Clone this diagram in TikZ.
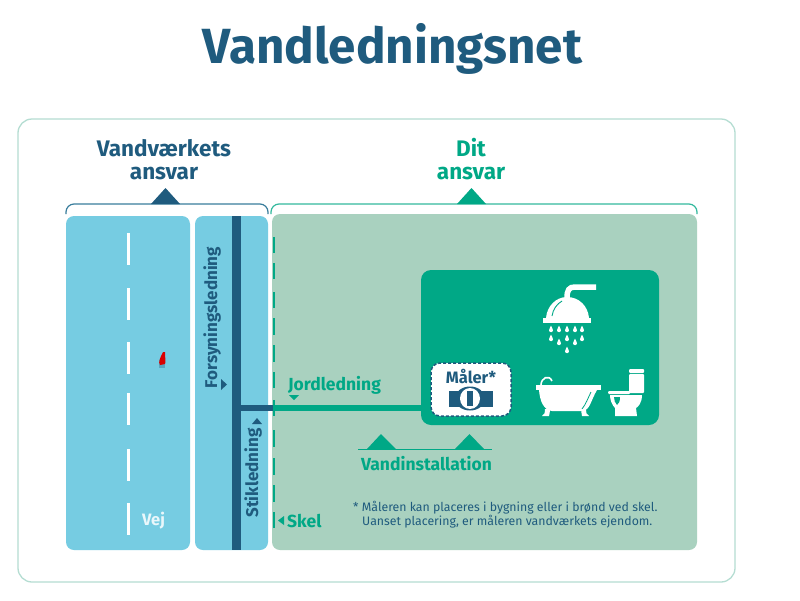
\documentclass[tikz,border=0pt]{standalone}
\usepackage{fontspec}
\setmainfont{Fira Sans}
\definecolor{navy}{HTML}{1F5B7E}
\definecolor{teal}{HTML}{00A886}
\definecolor{sage}{HTML}{A9D1BF}
\definecolor{sky}{HTML}{76CCE2}
\definecolor{frame}{HTML}{B5DDD2}
\tikzset{
  x=1pt,y=-1pt,
  panel/.style={rounded corners=8pt,draw=none},
  lbl/.style={inner sep=0pt,font=\bfseries,align=center},
  head/.style={lbl,font=\fontsize{22.5}{23}\selectfont\bfseries},
  mid/.style={lbl,text=teal,font=\fontsize{17.5}{19}\selectfont\bfseries},
  side/.style={lbl,text=navy,rotate=90,font=\fontsize{17}{19}\selectfont\bfseries},
  note/.style={inner sep=0pt,text=navy,align=left,font=\fontsize{12.3}{14}\selectfont},
  roadmark/.style={draw=white,line width=3pt},
  skelmark/.style={draw=teal,line width=2pt},
  brace/.style={line width=1.2pt,rounded corners=8pt},
}
\begin{document}
\begin{tikzpicture}
\useasboundingbox (0,0) rectangle (800,600);
\fill[white] (0,0) rectangle (800,600);
% title
\node[lbl,text=navy,font=\fontsize{49.4}{52}\selectfont\bfseries] (title) at (392.5,48.5) {Vandledningsnet};
% frame
\draw[frame,line width=1.3pt,rounded corners=14pt] (18,119) rectangle (735,582);
% panels
\fill[sky,panel] (66,216) rectangle (190,550);
\fill[sky,panel] (195,216) rectangle (268,550);
\fill[sage,panel] (272,214) rectangle (697,550);
% road marks
\foreach \y in {233,288,342,393,449,503} \draw[roadmark] (128,\y) -- (128,\y+32);
% red blob
\fill[navy!55!sky,opacity=.6] (159,360) -- (165,360) -- (165,368) -- (159,368) -- cycle;
\fill[red!85!black] (163,352) -- (165,352) .. controls (165,358) and (166,362) .. (165,364) -- (160,365) .. controls (158,362) and (160,358) .. (163,352) -- cycle;
% skel marks
\foreach \y/\l in {237/16,263/16,292/16,318/17,345/17,372/16,400/16,430/17,458/17,485/17,512/16}
  \draw[skelmark] (273.5,\y) -- (273.5,\y+\l);
% pipes
\fill[navy] (232,216) rectangle (241,550);
\coordinate (tee) at (241,408);
\coordinate (boundary) at (273,408);
\coordinate (house) at (421,408);
\draw[navy,line width=6pt] (tee) -- (boundary);
\draw[teal,line width=6pt] (boundary) -- (house);
% house
\fill[teal,rounded corners=10pt] (421,270) rectangle (659,425);
% meter
\draw[navy,fill=white,line width=1.5pt,dash pattern=on 3pt off 2pt,rounded corners=9pt] (431,363) rectangle (511,416);
\node[lbl,text=navy,font=\fontsize{16.5}{18}\selectfont\bfseries] (maaler) at (471,376) {Måler*};
\fill[navy] (449,391) rectangle (493,407);
\fill[navy] (470,398.5) ellipse (15 and 12);
\fill[white] (470,398.5) ellipse (10 and 10.5);
\fill[navy] (467,391) rectangle (473,406);
% shower
\draw[white,line width=5.5pt] (596,287) -- (575,287) .. controls (569,287) and (567,290) .. (567,298);
\fill[white] (546,318) .. controls (547,306) and (556,297) .. (567,297) .. controls (579,297) and (588,306) .. (589,318) -- cycle;
\fill[white] (543,318) rectangle (591,323);
\draw[teal,line width=.9pt] (552,316) .. controls (553,309) and (557,304) .. (562,301);
\foreach \x/\y in {551/329,559/329,567/329,575/329,582/329,551/338,559/342,567/338,575/342,582/338,567/350}
  \fill[white] (\x,\y-3.5) .. controls (\x+.8,\y-1) and (\x+2,\y) .. (\x+2,\y+1.2) arc[start angle=0,end angle=180,radius=2] .. controls (\x-2,\y) and (\x-.8,\y-1) .. (\x,\y-3.5) -- cycle;
% bath
\fill[white] (536,385) rectangle (601,390);
\fill[white] (539,390) .. controls (540,402) and (544,410) .. (552,411) -- (583,411) .. controls (590,410) and (591,400) .. (597,390) -- cycle;
\draw[teal,line width=.8pt] (591,392) .. controls (588,398) and (586,404) .. (582,409);
\draw[white,line width=1.6pt] (541,385) .. controls (541,378) and (549,374) .. (552,381);
\fill[white] (545,409) -- (550,409) .. controls (550,413) and (549,415) .. (549,416) -- (542,416) .. controls (545,415) and (545,412) .. (545,409) -- cycle;
\fill[white] (581,409) -- (586,409) .. controls (586,412) and (586,415) .. (589,416) -- (582,416) .. controls (582,414) and (581,412) .. (581,409) -- cycle;
% toilet
\fill[white,rounded corners=1pt] (629,369) rectangle (644,373);
\fill[white,rounded corners=1pt] (629,374) rectangle (644,393);
\fill[white,rounded corners=1pt] (608,391) rectangle (630,394);
\fill[white] (610,395) -- (642,395) .. controls (642,403) and (638,407) .. (636,408) -- (637,416) -- (615,416) -- (615,408) .. controls (612,405) and (610,400) .. (610,395) -- cycle;
\fill[teal] (614,397) -- (620,397) .. controls (620,401) and (619,404) .. (617,405) .. controls (615,403) and (614,400) .. (614,397) -- cycle;
% headings and braces
\node[head,text=navy] (vandv) at (164,159.5) {Vandværkets\\ansvar};
\node[head,text=teal] (dit) at (471,159.5) {Dit\\ansvar};
\draw[navy!70!sky,brace] (66,214) -- (66,204) -- (268,204) -- (268,214);
\draw[teal!80!white,brace] (271,214) -- (271,204) -- (697,204) -- (697,214);
\fill[navy] (151,204) -- (165.5,188) -- (180,204) -- cycle;
\fill[teal] (457,204) -- (471.5,188) -- (486,204) -- cycle;
% labels
\node[lbl,text=white!85!sky,font=\fontsize{16.5}{18}\selectfont\bfseries] (vej) at (153.5,520.5) {Vej};
\node[side] (forsyning) at (212,317.5) {Forsyningsledning};
\fill[navy] (221,379) -- (227,384.5) -- (221,390) -- cycle;
\node[side] (stik) at (253,473) {Stikledning};
\fill[navy] (252,424) -- (257,418) -- (262,424) -- cycle;
\node[mid] (jord) at (334.5,385) {Jordledning};
\fill[teal] (289,395) -- (299,395) -- (294,400) -- cycle;
\fill[teal] (284,516) -- (284,525) -- (278,520.5) -- cycle;
\node[mid,anchor=west] (skel) at (287,521) {Skel};
\node[mid] (inst) at (426.5,463.5) {Vandinstallation};
\draw[teal,line width=.9pt] (358,449) -- (492,449);
\fill[teal] (367,449) -- (381,434) -- (396,449) -- cycle;
\fill[teal] (455,449) -- (469.5,434) -- (484,449) -- cycle;
\node[note,anchor=north west] (fodnote) at (353,501) {* Måleren kan placeres i bygning eller i brønd ved skel.\\\hspace*{9pt}Uanset placering, er måleren vandværkets ejendom.};
\end{tikzpicture}
\end{document}
